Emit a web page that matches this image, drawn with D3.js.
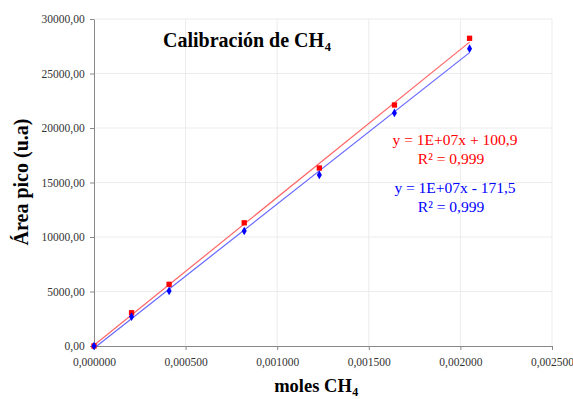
<!DOCTYPE html>
<html><head><meta charset="utf-8">
<script src="https://cdn.jsdelivr.net/npm/d3@7"></script>
<style>body{margin:0;background:#fff}svg{display:block}text{font-family:"Liberation Serif","Times New Roman",serif}</style>
</head><body>
<script>
const moles = [0, 0.000205, 0.00041, 0.00082, 0.00123, 0.00164, 0.00205];
const areaRed = [0, 3050, 5660, 11300, 16330, 22110, 28230];
const areaBlue = [0, 2690, 5050, 10550, 15690, 21380, 27280];
const xTicks = [0, 0.0005, 0.001, 0.0015, 0.002, 0.0025];
const yTicks = [0, 5000, 10000, 15000, 20000, 25000, 30000];
const eqRed = ["y = 1E+07x + 100,9", "R² = 0,999"];
const eqBlue = ["y = 1E+07x - 171,5", "R² = 0,999"];

const W = 573, H = 399;
const m = {l: 94, r: 21, t: 19, b: 53};
const svg = d3.select("body").append("svg").attr("width", W).attr("height", H);
const x = d3.scaleLinear().domain([0, 0.0025]).range([m.l, W - m.r]);
const y = d3.scaleLinear().domain([0, 30000]).range([H - m.b, m.t]);
const fmtX = v => d3.format(".6f")(v).replace(".", ",");
const fmtY = v => d3.format(".2f")(v).replace(".", ",");

// grid
svg.append("g").selectAll("line").data(yTicks.slice(1)).join("line")
  .attr("x1", m.l).attr("x2", W - m.r).attr("y1", d => y(d)).attr("y2", d => y(d))
  .attr("stroke", "#ececec");
svg.append("g").selectAll("line").data(xTicks.slice(1)).join("line")
  .attr("y1", m.t).attr("y2", H - m.b).attr("x1", d => x(d)).attr("x2", d => x(d))
  .attr("stroke", "#ececec");

const xa = svg.append("g").attr("transform", `translate(0,${H - m.b})`)
  .call(d3.axisBottom(x).tickValues(xTicks).tickFormat(fmtX).tickSize(4).tickSizeOuter(0));
const ya = svg.append("g").attr("transform", `translate(${m.l},0)`)
  .call(d3.axisLeft(y).tickValues(yTicks).tickFormat(fmtY).tickSize(4).tickSizeOuter(0));
[xa, ya].forEach(a => {
  a.select(".domain").attr("stroke", "#888");
  a.selectAll(".tick line").attr("stroke", "#888");
  a.selectAll("text").attr("font-size", 11.5).attr("fill", "#333")
    .attr("font-family", '"Liberation Serif","Times New Roman",serif');
});
xa.selectAll("text").attr("dy", "1.1em");
ya.selectAll("text").attr("dx", "-0.2em");

function fit(xs, ys) {
  const mx = d3.mean(xs), my = d3.mean(ys);
  const s = d3.sum(xs, (v, i) => (v - mx) * (ys[i] - my)) / d3.sum(xs, v => (v - mx) ** 2);
  return [s, my - s * mx];
}
const series = [
  {vals: areaRed, color: "#ff0000", line: "#ff6666", shape: d3.symbolSquare, size: 28},
  {vals: areaBlue, color: "#0000ff", line: "#6666ff", shape: d3.symbolDiamond, size: 22}
];
series.forEach(s => {
  const [a, b] = fit(moles, s.vals);
  const x0 = moles[0], x1 = moles[moles.length - 1];
  svg.append("line").attr("x1", x(x0)).attr("y1", y(a * x0 + b))
    .attr("x2", x(x1)).attr("y2", y(a * x1 + b))
    .attr("stroke", s.line).attr("stroke-width", 1.2);
});
series.forEach(s => {
  svg.append("g").selectAll("path").data(moles).join("path")
    .attr("transform", (d, i) => `translate(${x(d)},${y(s.vals[i])})`)
    .attr("d", d3.symbol().type(s.shape).size(s.size))
    .attr("fill", s.color);
});

// equations
function eq(lines, color, yy) {
  svg.append("text").attr("x", 455).attr("y", yy).attr("text-anchor", "middle")
    .attr("font-size", 15.5).attr("fill", color).text(lines[0]);
  svg.append("text").attr("x", 451).attr("y", yy + 19).attr("text-anchor", "middle")
    .attr("font-size", 15.5).attr("fill", color).text(lines[1]);
}
eq(eqRed, "#ff0000", 145);
eq(eqBlue, "#0000ff", 193);

// text with subscript helper
function subText(xx, yy, main, sub, size, subSize, anchor) {
  const g = svg.append("g");
  const t = g.append("text").attr("y", yy).attr("font-size", size)
    .attr("font-weight", "bold").attr("fill", "#000").text(main);
  const w = t.node().getComputedTextLength();
  const s = g.append("text").attr("y", yy + 4).attr("font-size", subSize)
    .attr("font-weight", "bold").attr("fill", "#000").text(sub);
  const ws = s.node().getComputedTextLength();
  const x0 = anchor === "middle" ? xx - (w + ws) / 2 : xx;
  t.attr("x", x0);
  s.attr("x", x0 + w + 0.5);
}
subText(163, 47, "Calibración de CH", "4", 20, 12.5, "start");
subText(316, 392, "moles CH", "4", 18.5, 12, "middle");

// y label
svg.append("text").attr("transform", "translate(28,182) rotate(-90)").attr("text-anchor", "middle")
  .attr("font-size", 20).attr("font-weight", "bold").text("Área pico (u.a)");
</script>
</body></html>
